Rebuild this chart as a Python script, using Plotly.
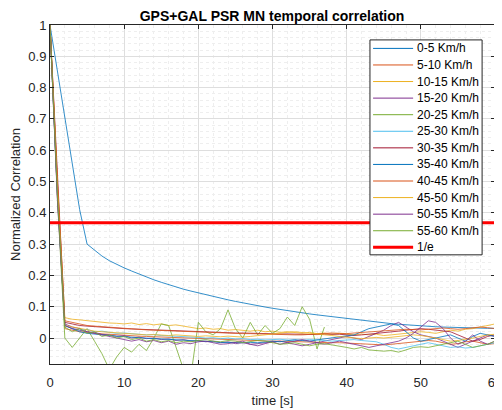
import plotly.graph_objects as go

# time axis [s]
time = list(range(0, 61))

speed_labels = ['0-5 Km/h', '5-10 Km/h', '10-15 Km/h', '15-20 Km/h', '20-25 Km/h', '25-30 Km/h',
                '30-35 Km/h', '35-40 Km/h', '40-45 Km/h', '45-50 Km/h', '50-55 Km/h', '55-60 Km/h']

corr_0_5 = [1.0, 0.85, 0.70, 0.55, 0.41, 0.30, 0.28, 0.262, 0.247, 0.235,
            0.224, 0.214, 0.204, 0.195, 0.186, 0.178, 0.170, 0.163, 0.156, 0.150,
            0.144, 0.138, 0.132, 0.127, 0.122, 0.117, 0.112, 0.107, 0.103, 0.099,
            0.095, 0.091, 0.087, 0.083, 0.080, 0.077, 0.074, 0.071, 0.068, 0.065,
            0.062, 0.059, 0.056, 0.053, 0.050, 0.048, 0.046, 0.044, 0.042, 0.040,
            0.038, 0.037, 0.036, 0.035, 0.034, 0.033, 0.033, 0.032, 0.032, 0.031,
            0.031]
corr_5_10 = [1.0, 0.48, 0.030, 0.025, 0.020, 0.018, 0.015, 0.013, 0.012, 0.010,
             0.008, 0.007, 0.006, 0.005, 0.004, 0.003, 0.002, 0.001, 0.000, 0.000,
             -0.002, -0.003, -0.004, -0.005, -0.006, -0.006, -0.007, -0.008, -0.008, -0.009,
             -0.010, -0.010, -0.011, -0.012, -0.012, -0.013, -0.013, -0.014, -0.015, -0.015,
             -0.016, -0.016, -0.017, -0.018, -0.020, -0.022, -0.020, -0.018, -0.015, -0.012,
             -0.010, -0.008, -0.010, -0.015, -0.020, -0.018, -0.012, -0.010, -0.015, -0.020,
             -0.018]
corr_10_15 = [1.0, 0.50, 0.065, 0.060, 0.058, 0.055, 0.052, 0.050, 0.048, 0.047,
              0.045, 0.048, 0.043, 0.046, 0.042, 0.045, 0.040, 0.042, 0.038, 0.035,
              0.030, 0.032, 0.028, 0.030, 0.025, 0.027, 0.024, 0.022, 0.025, 0.020,
              0.022, 0.018, 0.020, 0.017, 0.015, 0.018, 0.014, 0.016, 0.012, 0.015,
              0.012, 0.010, 0.013, 0.010, 0.012, 0.008, 0.010, 0.012, 0.015, 0.018,
              0.020, 0.018, 0.015, 0.020, 0.025, 0.022, 0.028, 0.030, 0.035, 0.040,
              0.045]
corr_15_20 = [1.0, 0.45, 0.045, 0.035, 0.030, 0.020, 0.018, 0.012, 0.010, 0.005,
              0.008, 0.000, 0.003, -0.002, 0.000, -0.005, -0.003, -0.008, -0.005, -0.010,
              -0.008, -0.012, -0.010, -0.015, -0.012, -0.018, -0.015, -0.020, -0.018, -0.015,
              -0.012, -0.010, -0.015, -0.020, -0.025, -0.020, -0.015, -0.010, -0.005, 0.000,
              0.005, 0.000, -0.005, 0.005, 0.015, 0.025, 0.040, 0.050, 0.035, 0.020,
              0.010, 0.005, 0.000, -0.010, -0.020, -0.030, -0.020, -0.010, 0.000, 0.010,
              0.005]
# this one stops at ~37 s
corr_20_25 = [1.0, 0.45, 0.000, -0.030, 0.000, 0.030, -0.010, -0.050, -0.100, -0.060,
              -0.030, -0.045, -0.020, -0.040, 0.000, 0.045, 0.040, -0.030, -0.100, -0.120,
              0.050, 0.020, 0.010, 0.030, 0.090, 0.030, 0.000, 0.050, 0.010, 0.040,
              0.015, 0.030, 0.067, 0.040, 0.100, 0.060, -0.035, 0.035]
corr_25_30 = [1.0, 0.47, 0.040, 0.030, 0.025, 0.028, 0.020, 0.022, 0.018, 0.015,
              0.016, 0.013, 0.012, 0.010, 0.011, 0.008, 0.007, 0.005, 0.006, 0.003,
              0.002, 0.000, 0.001, -0.002, 0.000, -0.003, -0.002, -0.005, -0.004, -0.006,
              -0.005, -0.004, -0.006, -0.008, -0.007, -0.005, -0.006, -0.008, -0.010, -0.008,
              -0.006, -0.005, -0.008, -0.010, -0.012, -0.020, -0.030, -0.035, -0.030, -0.025,
              -0.020, -0.015, -0.020, -0.025, -0.030, -0.028, -0.032, -0.030, -0.025, -0.020,
              -0.015]
corr_30_35 = [1.0, 0.50, 0.050, 0.045, 0.040, 0.038, 0.036, 0.035, 0.033, 0.032,
              0.030, 0.029, 0.028, 0.027, 0.026, 0.024, 0.023, 0.022, 0.021, 0.020,
              0.020, 0.019, 0.018, 0.018, 0.017, 0.016, 0.016, 0.015, 0.015, 0.014,
              0.014, 0.013, 0.013, 0.012, 0.012, 0.011, 0.011, 0.012, 0.013, 0.012,
              0.010, 0.008, 0.010, 0.012, 0.015, 0.018, 0.020, 0.022, 0.025, 0.028,
              0.030, 0.028, 0.025, 0.022, 0.020, 0.010, 0.000, -0.010, -0.005, 0.005,
              0.010]
corr_35_40 = [1.0, 0.46, 0.040, 0.030, 0.020, 0.015, 0.012, 0.010, 0.008, 0.006,
              0.004, 0.003, 0.002, 0.000, -0.002, -0.003, -0.004, -0.005, -0.006, -0.007,
              -0.008, -0.010, -0.012, -0.014, -0.015, -0.016, -0.015, -0.014, -0.015, -0.013,
              -0.010, -0.012, -0.008, -0.005, -0.008, -0.010, -0.006, -0.003, 0.000, 0.003,
              0.006, 0.010, 0.020, 0.030, 0.035, 0.040, 0.045, 0.040, 0.020, 0.000,
              -0.010, -0.005, 0.000, 0.005, 0.010, 0.000, -0.010, 0.005, 0.015, 0.010,
              0.005]
corr_40_45 = [1.0, 0.50, 0.055, 0.050, 0.045, 0.040, 0.038, 0.036, 0.034, 0.032,
              0.030, 0.028, 0.027, 0.026, 0.025, 0.024, 0.022, 0.021, 0.020, 0.020,
              0.019, 0.018, 0.017, 0.016, 0.015, 0.015, 0.014, 0.014, 0.013, 0.012,
              0.012, 0.011, 0.011, 0.010, 0.010, 0.012, 0.014, 0.015, 0.016, 0.015,
              0.014, 0.016, 0.018, 0.020, 0.022, 0.024, 0.025, 0.026, 0.028, 0.027,
              0.026, 0.028, 0.030, 0.032, 0.030, 0.028, 0.030, 0.032, 0.035, 0.033,
              0.030]
corr_45_50 = [1.0, 0.48, 0.040, 0.035, 0.030, 0.025, 0.022, 0.020, 0.018, 0.016,
              0.015, 0.014, 0.012, 0.010, 0.011, 0.009, 0.008, 0.010, 0.008, 0.006,
              0.005, 0.007, 0.005, 0.004, 0.006, 0.005, 0.003, 0.005, 0.008, 0.010,
              0.012, 0.015, 0.018, 0.020, 0.018, 0.015, 0.012, 0.010, 0.008, 0.005,
              0.003, 0.000, -0.002, 0.000, 0.002, 0.000, 0.003, 0.005, 0.008, 0.010,
              0.008, 0.005, 0.000, -0.005, -0.010, -0.008, -0.005, 0.000, 0.005, 0.010,
              0.012]
corr_50_55 = [1.0, 0.44, 0.040, 0.030, 0.025, 0.020, 0.015, 0.010, 0.005, 0.000,
              -0.005, -0.010, -0.005, -0.012, -0.008, -0.015, -0.010, -0.020, -0.015, -0.018,
              -0.012, -0.010, -0.015, -0.020, -0.018, -0.015, -0.010, -0.020, -0.025, -0.018,
              -0.012, -0.020, -0.015, -0.010, -0.005, -0.010, -0.015, -0.020, -0.015, -0.010,
              -0.015, -0.020, -0.025, -0.030, -0.025, -0.020, -0.015, -0.010, 0.000, 0.015,
              0.035, 0.055, 0.050, 0.030, 0.000, -0.020, -0.010, 0.010, -0.010, -0.020,
              -0.010]
corr_55_60 = [1.0, 0.46, 0.035, 0.020, 0.030, 0.015, 0.020, 0.005, 0.010, 0.000,
              0.005, -0.005, 0.000, -0.010, -0.005, -0.012, -0.008, -0.015, -0.010, -0.012,
              -0.008, -0.005, -0.010, -0.012, -0.008, -0.010, -0.015, -0.012, -0.008, -0.010,
              -0.015, -0.020, -0.018, -0.015, -0.020, -0.025, -0.020, -0.018, -0.022, -0.025,
              -0.030, -0.035, -0.030, -0.038, -0.040, -0.042, -0.040, -0.045, -0.038, -0.030,
              -0.028, -0.030, -0.025, -0.020, -0.015, -0.010, -0.020, -0.030, -0.025, -0.020,
              -0.010]

all_corr = [corr_0_5, corr_5_10, corr_10_15, corr_15_20, corr_20_25, corr_25_30,
            corr_30_35, corr_35_40, corr_40_45, corr_45_50, corr_50_55, corr_55_60]

one_over_e = 0.3679
x_ticks = [0, 10, 20, 30, 40, 50, 60]
y_ticks = [0, 0.1, 0.2, 0.3, 0.4, 0.5, 0.6, 0.7, 0.8, 0.9, 1]

# matlab default colour order
colors = ['#0072BD', '#D95319', '#EDB120', '#7E2F8E', '#77AC30', '#4DBEEE', '#A2142F']

fig = go.Figure()

for i, vals in enumerate(all_corr):
    fig.add_trace(go.Scatter(
        x=time[:len(vals)], y=vals, name=speed_labels[i], mode='lines', showlegend=False,
        line=dict(color=colors[i % len(colors)], width=0.8)))

fig.add_trace(go.Scatter(x=[time[0], time[-1]], y=[one_over_e, one_over_e], name='1/e',
                         mode='lines', showlegend=False, line=dict(color='#FF0000', width=3)))

# matlab-like compact legend, drawn in paper coordinates
leg_x0, leg_x1 = 0.719, 0.971
leg_y0, leg_y1 = 0.322, 0.956
row_h = 0.0489
first_row = 0.931
line_x0, line_x1 = 0.726, 0.816
text_x = 0.820

fig.add_shape(type='rect', xref='paper', yref='paper', x0=leg_x0, x1=leg_x1, y0=leg_y0, y1=leg_y1,
              line=dict(color='#262626', width=1), fillcolor='white', layer='above')

entries = [(lab, colors[i % len(colors)], 1) for i, lab in enumerate(speed_labels)]
entries.append(('1/e', '#FF0000', 3))
for k, (lab, col, w) in enumerate(entries):
    yy = first_row - k * row_h
    fig.add_shape(type='line', xref='paper', yref='paper', x0=line_x0, x1=line_x1, y0=yy, y1=yy,
                  line=dict(color=col, width=w), layer='above')
    fig.add_annotation(x=text_x, y=yy, xref='paper', yref='paper', text=lab, showarrow=False,
                       xanchor='left', yanchor='middle',
                       font=dict(size=12, color='#000000'))

axis_style = dict(
    showline=True, linecolor='#262626', linewidth=1, mirror='ticks',
    ticks='inside', ticklen=4, tickcolor='#262626', automargin=False,
    showgrid=True, gridcolor='#dedede', gridwidth=1, zeroline=False,
    tickfont=dict(size=13, color='#262626'),
)

# the page body adds an 8px offset, margins compensate for it
fig.update_layout(
    width=502, height=410,
    margin=dict(l=42, r=15, t=17, b=54),
    font=dict(family='Liberation Sans, Arial, sans-serif', color='#262626'),
    plot_bgcolor='white', paper_bgcolor='white',
    title=dict(text='<b>GPS+GAL PSR MN temporal correlation</b>', x=0.526, xanchor='center',
               y=0.98, yanchor='middle', font=dict(size=14, color='#000000')),
    showlegend=False,
)

fig.update_xaxes(
    range=[0, 60], tickvals=x_ticks, ticklabelstandoff=6,
    title=dict(text='time [s]', font=dict(size=13, color='#262626'), standoff=7),
    minor=dict(dtick=2, showgrid=True, gridcolor='#eeeeee', griddash='dot', ticks=''),
    **axis_style)
fig.update_yaxes(
    range=[-0.083, 1], tickvals=y_ticks, ticktext=[str(v) for v in y_ticks],
    title=dict(text='Normalized Correlation', font=dict(size=13, color='#262626'), standoff=7),
    minor=dict(dtick=0.02, showgrid=True, gridcolor='#eeeeee', griddash='dot', ticks=''),
    **axis_style)

fig.write_html("out.html")
